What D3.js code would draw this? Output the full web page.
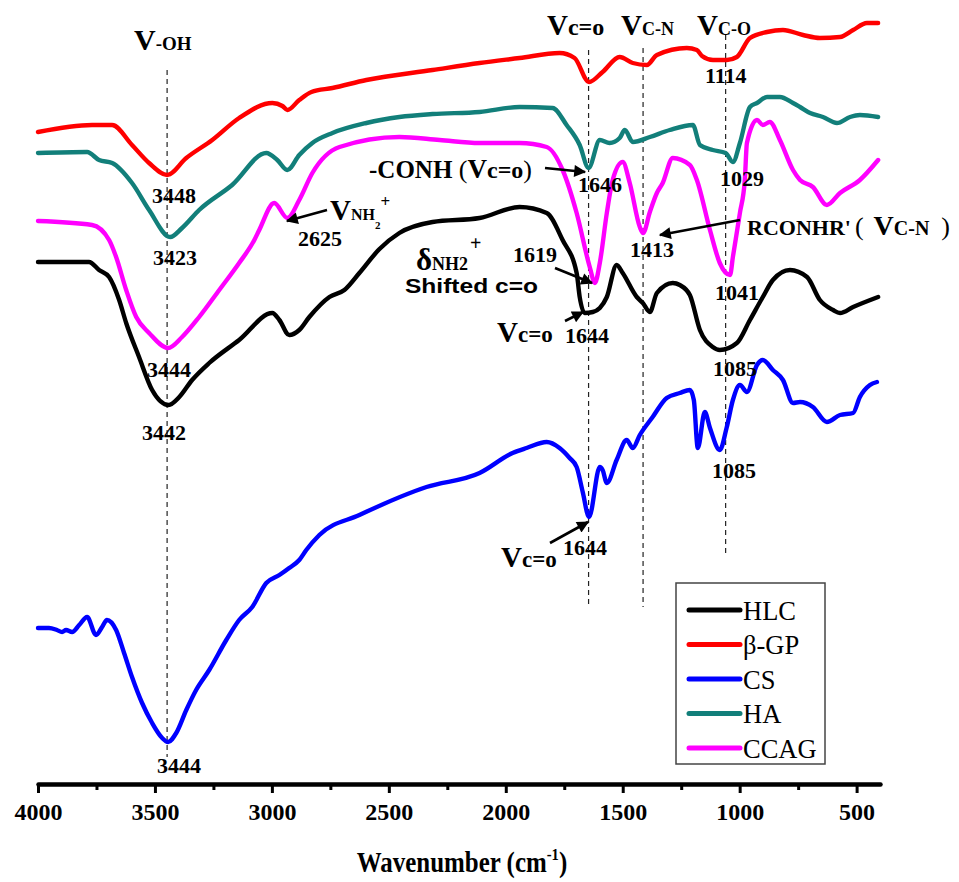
<!DOCTYPE html>
<html>
<head>
<meta charset="utf-8">
<script src="https://cdn.jsdelivr.net/npm/d3@7"></script>
<style>
  body { margin: 0; background: #fff; }
  svg { display: block; }
</style>
</head>
<body>
<script>
const width = 959
const height = 882

// wavenumber (cm-1), transmittance (a.u., curves offset as in the figure)
const hlc = [[4000,538],[3782,538],[3739,530],[3696,523],[3653,500],[3623,477],[3568,443],[3512,410],[3442,395],[3396,403],[3341,420],[3268,437],[3140,460],[2998,487],[2968,480],[2926,465],[2883,470],[2840,483],[2754,503],[2690,510],[2626,527],[2540,551],[2455,567],[2313,578],[2112,582],[1941,593],[1825,587],[1757,560],[1697,527],[1684,503],[1663,487],[1628,488],[1598,492],[1568,503],[1526,535],[1500,527],[1440,503],[1414,497],[1384,488],[1354,507],[1286,517],[1256,515],[1213,505],[1170,470],[1115,453],[1085,450],[1012,457],[956,480],[901,503],[858,520],[785,530],[712,523],[657,500],[601,490],[571,487],[515,493],[408,503]]
const bgp = [[4000,668],[3769,675],[3683,675],[3598,655],[3525,637],[3448,625],[3366,642],[3255,660],[3140,682],[2998,697],[2955,694],[2934,690],[2883,700],[2831,708],[2741,712],[2596,720],[2313,730],[2112,737],[1941,742],[1770,747],[1706,742],[1644,718],[1586,728],[1513,743],[1457,737],[1397,735],[1354,745],[1226,752],[1183,750],[1161,744],[1114,740],[1055,740],[1012,743],[956,762],[883,768],[815,770],[729,765],[657,762],[571,763],[515,770],[456,777],[408,777]]
const cs = [[4000,172],[3953,172],[3919,170],[3897,168],[3880,170],[3854,168],[3824,175],[3790,183],[3752,165],[3726,173],[3705,180],[3666,170],[3632,147],[3598,123],[3555,97],[3512,77],[3469,62],[3444,58],[3409,67],[3366,90],[3324,110],[3268,130],[3195,160],[3140,180],[3084,193],[3024,217],[2968,225],[2926,232],[2883,240],[2853,250],[2797,265],[2626,285],[2339,313],[2112,327],[1971,347],[1911,352],[1825,358],[1770,352],[1727,342],[1697,333],[1671,308],[1644,283],[1598,333],[1586,330],[1568,317],[1526,340],[1483,360],[1457,352],[1427,365],[1372,383],[1312,402],[1256,407],[1213,410],[1196,400],[1179,352],[1149,388],[1127,372],[1085,350],[1055,373],[1029,400],[999,415],[969,408],[926,435],[901,440],[858,430],[815,420],[772,397],[742,398],[687,393],[627,378],[571,385],[515,387],[486,403],[443,415],[413,418]]
const ha = [[4000,647],[3790,648],[3739,640],[3683,637],[3598,617],[3525,590],[3435,563],[3384,572],[3311,590],[3170,615],[3024,647],[2977,640],[2934,630],[2883,645],[2827,657],[2741,667],[2596,677],[2455,683],[2313,686],[2112,688],[1941,693],[1800,692],[1740,675],[1684,655],[1646,632],[1598,660],[1556,657],[1513,662],[1491,670],[1457,658],[1384,663],[1299,670],[1200,675],[1170,655],[1115,650],[1060,647],[1029,638],[999,657],[956,693],[926,697],[883,703],[828,703],[772,697],[742,693],[699,687],[644,683],[584,677],[528,683],[486,685],[408,683]]
const ccag = [[4000,579],[3769,575],[3696,560],[3666,543],[3623,510],[3580,483],[3525,467],[3444,452],[3384,463],[3311,483],[3225,510],[3140,537],[3075,560],[3054,570],[2990,597],[2934,582],[2883,600],[2827,627],[2711,653],[2455,663],[2283,660],[2112,657],[1941,657],[1825,653],[1757,630],[1697,587],[1641,533],[1619,517],[1598,537],[1568,587],[1543,620],[1500,638],[1470,617],[1427,573],[1413,567],[1384,588],[1354,607],[1329,617],[1286,642],[1213,635],[1183,620],[1127,570],[1085,537],[1041,525],[1029,543],[999,587],[978,620],[969,657],[926,680],[901,675],[871,678],[828,660],[772,630],[742,620],[687,613],[627,595],[571,607],[486,620],[408,640]]

const seriesNames = ["HLC", "β-GP", "CS", "HA", "CCAG"]
const seriesColors = ["#000000", "#ff0000", "#0000ff", "#127f7a", "#ff00ff"]
const seriesData = [hlc, bgp, cs, ha, ccag]

const majorTicks = [4000, 3500, 3000, 2500, 2000, 1500, 1000, 500]
const minorTicks = [3750, 3250, 2750, 2250, 1750, 1250, 750]
const markerLines = [3448, 1646, 1413, 1060]

const serif = "'Liberation Serif', 'Times New Roman', serif"
const sans = "'Liberation Sans', Arial, sans-serif"

const svg = d3.select("body").append("svg")
  .attr("width", width)
  .attr("height", height)
  .attr("xmlns", "http://www.w3.org/2000/svg")

const x = d3.scaleLinear().domain([4000, 400]).range([38, 880])
const y = d3.scaleLinear().domain([0, 800]).range([800, 0])
const axisY = 784

svg.append("defs").append("marker")
  .attr("id", "arrow")
  .attr("viewBox", "0 0 10 10")
  .attr("refX", 9).attr("refY", 5)
  .attr("markerWidth", 6).attr("markerHeight", 4.6)
  .attr("markerUnits", "strokeWidth")
  .attr("orient", "auto")
  .append("path")
  .attr("d", "M0,0L10,5L0,10Z")
  .attr("fill", "#000")

// dashed guide lines (top, bottom in px)
const guideExtent = [[70, 757], [50, 605], [48, 607], [35, 555]]
svg.selectAll(".guide")
  .data(markerLines)
  .enter().append("line")
  .attr("class", "guide")
  .attr("x1", d => x(d)).attr("x2", d => x(d))
  .attr("y1", (d, i) => guideExtent[i][0])
  .attr("y2", (d, i) => guideExtent[i][1])
  .attr("stroke", "#222")
  .attr("stroke-width", 1.2)
  .attr("stroke-dasharray", "5,4")

const line = d3.line()
  .x(d => x(d[0]))
  .y(d => y(d[1]))
  .curve(d3.curveMonotoneX)

const drawOrder = [2, 0, 4, 3, 1]
drawOrder.forEach(i => {
  svg.append("path")
    .datum(seriesData[i])
    .attr("d", line)
    .attr("fill", "none")
    .attr("stroke", seriesColors[i])
    .attr("stroke-width", 4.4)
    .attr("stroke-linejoin", "round")
    .attr("stroke-linecap", "round")
})

// x axis
const axis = svg.append("g")
  .attr("transform", `translate(0,${axisY})`)
  .call(d3.axisBottom(x).tickValues(majorTicks).tickSize(9).tickSizeOuter(0).tickFormat(d3.format("d")))
axis.select(".domain").attr("stroke-width", 4.5).attr("stroke-linecap", "round")
axis.selectAll(".tick line").attr("stroke-width", 3)
axis.selectAll("text")
  .attr("y", 36).attr("dy", 0)
  .attr("font-family", serif)
  .attr("font-weight", "bold")
  .attr("font-size", 24)
  .attr("fill", "#000")

const minor = svg.append("g")
  .attr("transform", `translate(0,${axisY})`)
  .call(d3.axisBottom(x).tickValues(minorTicks).tickSize(6).tickSizeOuter(0).tickFormat(""))
minor.select(".domain").remove()
minor.selectAll(".tick line").attr("stroke-width", 3)

svg.append("g")
  .attr("transform", "translate(462,872) scale(0.86,1)")
  .append("text")
  .attr("text-anchor", "middle")
  .attr("font-family", serif)
  .attr("font-weight", "bold")
  .attr("font-size", 29)
  .text("Wavenumber (cm")
  .append("tspan").attr("font-size", 17).attr("dy", -12).text("-1")
  .append("tspan").attr("font-size", 29).attr("dy", 12).text(")")

// rich text helper: parts = [text, size, dy, weight, family, dx]
const rich = (px, py, parts) => {
  const t = svg.append("text")
    .attr("x", px).attr("y", py)
    .attr("font-family", serif)
    .attr("font-weight", "bold")
    .attr("fill", "#000")
  parts.forEach(p => {
    t.append("tspan")
      .attr("font-size", p[1])
      .attr("dy", p[2] || 0)
      .attr("dx", p[5] || 0)
      .attr("font-weight", p[3] || "bold")
      .attr("font-family", p[4] || serif)
      .text(p[0])
  })
  return t
}

// group headers
rich(134, 50, [["V", 30], ["-OH", 19]])
rich(547, 35, [["V", 29], ["c=o", 24]])
rich(621, 35, [["V", 29], ["C-N", 18]])
rich(697, 35, [["V", 29], ["C-O", 18]])

// peak positions
const peakLabels = [
  ["3448", 152, 203], ["3423", 153, 265], ["3444", 147, 377], ["3442", 142, 440], ["3444", 157, 773],
  ["2625", 298, 246], ["1114", 705, 83], ["1646", 578, 192], ["1029", 720, 186], ["1619", 513, 262],
  ["1413", 630, 257], ["1041", 715, 300], ["1644", 565, 343], ["1085", 713, 376], ["1085", 712, 478],
  ["1644", 563, 555]
]
peakLabels.forEach(p => rich(p[1], p[2], [[p[0], 22]]))

// assignments
rich(330, 220, [["V", 29], ["NH", 16], ["2", 11, 9], ["+", 17, -22]])
rich(369, 178, [["-CONH", 25], [" (", 26, 0, "normal"], ["V", 27], ["c=o", 24], [")", 26, 0, "normal"]])
rich(416, 270, [["δ", 31], ["NH2", 18], ["+", 20, -20, "bold", serif, 2]])
rich(405, 293, [["Shifted c=o", 21, 0, "bold", sans]]).attr("textLength", 133).attr("lengthAdjust", "spacingAndGlyphs")
rich(747, 235, [["RCONHR'", 22], ["(", 26, 0, "normal", serif, 4], ["V", 28, 0, "bold", serif, 10], ["C-N", 20], [")", 26, 0, "normal", serif, 12]])
rich(497, 342, [["V", 29], ["c=o", 23]])
rich(501, 567, [["V", 29], ["c=o", 23]])

const arrows = [
  [327, 210, 287, 221], [545, 168, 585, 172], [740, 220, 660, 235],
  [555, 268, 592, 283], [565, 321, 583, 312], [550, 543, 588, 522]
]
svg.selectAll(".arrow")
  .data(arrows)
  .enter().append("line")
  .attr("class", "arrow")
  .attr("x1", d => d[0]).attr("y1", d => d[1])
  .attr("x2", d => d[2]).attr("y2", d => d[3])
  .attr("stroke", "#000")
  .attr("stroke-width", 2.6)
  .attr("marker-end", "url(#arrow)")

// legend
const legend = svg.append("g").attr("transform", "translate(676,583)")
legend.append("rect")
  .attr("width", 149).attr("height", 181)
  .attr("fill", "#fff")
  .attr("stroke", "#444")
  .attr("stroke-width", 1.5)
seriesNames.forEach((name, i) => {
  const ly = 27 + i * 34.5
  legend.append("line")
    .attr("x1", 13).attr("x2", 64)
    .attr("y1", ly).attr("y2", ly)
    .attr("stroke", seriesColors[i])
    .attr("stroke-width", 5)
    .attr("stroke-linecap", "round")
  legend.append("text")
    .attr("x", 67).attr("y", ly + 9.5)
    .attr("font-family", serif)
    .attr("font-size", 26.5)
    .text(name)
})
</script>
</body>
</html>
